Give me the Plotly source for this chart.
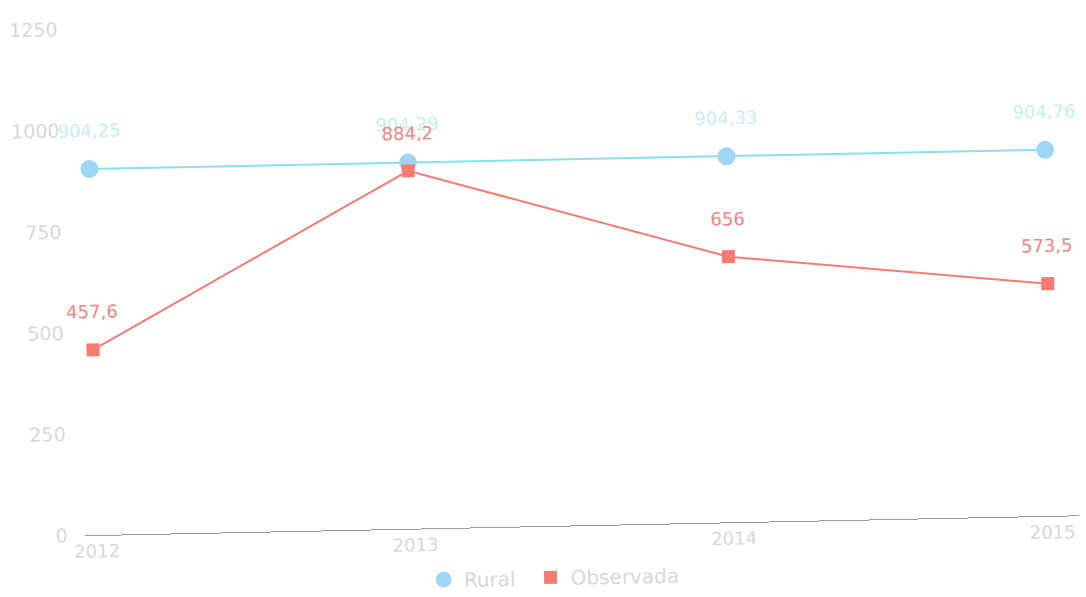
import plotly.graph_objects as go

years = [2012, 2013, 2014, 2015]
rural = [904.25, 904.29, 904.33, 904.76]
observada = [457.6, 884.2, 656, 573.5]
rural_labels = ["904,25", "904,29", "904,33", "904,76"]
observada_labels = ["457,6", "884,2", "656", "573,5"]
y_ticks = [0, 250, 500, 750, 1000, 1250]

BLUE_LINE = "#86e3ec"
BLUE_MARK = "#9fd6f6"
RED = "#f77b70"
RED_TEXT = "#ef8585"
BLUE_TEXT = "#c6eef5"
GREY = "#d8d8d8"
FONT = "DejaVu Sans"

fig = go.Figure()
# connecting lines (kept out of the legend)
fig.add_trace(go.Scatter(x=years, y=rural, mode="lines", showlegend=False,
                         line=dict(color=BLUE_LINE, width=2), hoverinfo="skip"))
fig.add_trace(go.Scatter(x=years, y=observada, mode="lines", showlegend=False,
                         line=dict(color=RED, width=2), hoverinfo="skip"))
# markers, which also provide the legend symbols (one legend box per series)
fig.add_trace(go.Scatter(x=years, y=rural, name="Rural", mode="markers",
                         legend="legend",
                         marker=dict(symbol="circle", size=18, color=BLUE_MARK)))
fig.add_trace(go.Scatter(x=years, y=observada, name="Observada", mode="markers",
                         legend="legend2",
                         marker=dict(symbol="square", size=13, color=RED)))

for x, y, t in zip(years, rural, rural_labels):
    fig.add_annotation(x=x, y=y, text=t, showarrow=False, yshift=38,
                       font=dict(color=BLUE_TEXT, size=18, family=FONT))
for x, y, t in zip(years, observada, observada_labels):
    fig.add_annotation(x=x, y=y, text=t, showarrow=False, yshift=38,
                       font=dict(color=RED_TEXT, size=18, family=FONT))

legend_style = dict(orientation="h", xanchor="left", xref="container",
                    y=0.0, yanchor="bottom", yref="container",
                    font=dict(size=20, color=GREY, family=FONT), itemwidth=30)

fig.update_layout(
    width=1086, height=597,
    margin=dict(l=80, r=11, t=20, b=71),
    paper_bgcolor="white", plot_bgcolor="white",
    font=dict(family=FONT, color=GREY, size=13),
    showlegend=True,
    legend=dict(x=0.385, **legend_style),
    legend2=dict(x=0.4834, **legend_style),
    xaxis=dict(
        range=[2011.962, 2015.085], tickvals=years, ticktext=[str(y) for y in years],
        showgrid=False, zeroline=False, showline=True, linecolor="#9a9a9a",
        linewidth=1, ticks="", automargin=False,
        tickfont=dict(size=18, color=GREY, family=FONT),
    ),
    yaxis=dict(
        range=[0, 1250], tickvals=y_ticks, ticktext=[str(v) for v in y_ticks],
        showgrid=False, zeroline=False, showline=False, ticks="", automargin=False,
        ticklabelstandoff=16, tickfont=dict(size=19, color=GREY, family=FONT),
    ),
)

fig.write_html(
    "out.html",
    post_script="var d=document.getElementById('{plot_id}');"
                "d.style.transform='rotate(-1.15deg)';d.style.transformOrigin='50% 50%';",
)
